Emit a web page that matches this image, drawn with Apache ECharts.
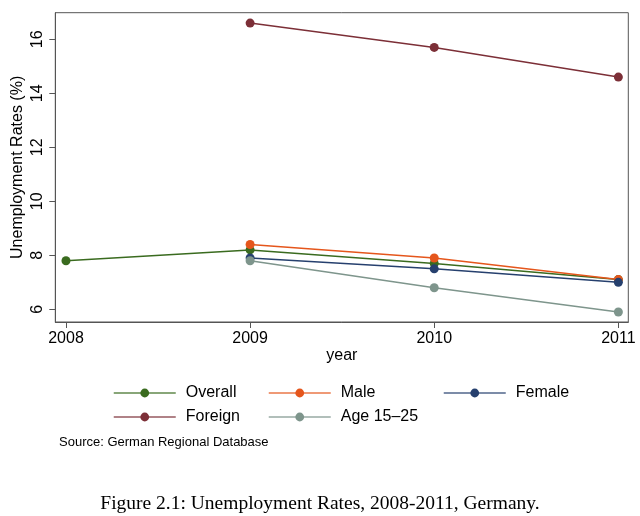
<!DOCTYPE html>
<html>
<head>
<meta charset="utf-8">
<script src="https://cdn.jsdelivr.net/npm/echarts@6/dist/echarts.min.js"></script>
<style>
html,body{margin:0;padding:0;background:#fff;}
#chart{width:640px;height:516px;}
</style>
</head>
<body>
<div id="chart"></div>
<script>
var years = [2008, 2009, 2010, 2011];
var yTicks = [6, 8, 10, 12, 14, 16];
var overall = [7.8, 8.2, 7.7, 7.1];
var male = [null, 8.4, 7.9, 7.1];
var female = [null, 7.9, 7.5, 7.0];
var foreign = [null, 16.6, 15.7, 14.6];
var age1525 = [null, 7.8, 6.8, 5.9];

var seriesNames = ['Overall', 'Male', 'Female', 'Foreign', 'Age 15\u201325'];
var seriesValues = [overall, male, female, foreign, age1525];
var seriesColors = ['#3a6b1f', '#e5561c', '#26406e', '#7c2f37', '#7e958c'];

function pairs(vals) {
  var out = [];
  for (var i = 0; i < years.length; i++) {
    if (vals[i] != null) out.push([years[i], vals[i]]);
  }
  return out;
}

var series = seriesNames.map(function (name, i) {
  return {
    name: name,
    type: 'line',
    data: pairs(seriesValues[i]),
    symbol: 'circle',
    symbolSize: 9,
    showSymbol: true,
    color: seriesColors[i],
    lineStyle: { width: 1.5, color: seriesColors[i] },
    itemStyle: { color: seriesColors[i] },
    z: 2 + i,
    animation: false
  };
});

var legendPos = [
  { left: 113, top: 385 },
  { left: 268, top: 385 },
  { left: 443, top: 385 },
  { left: 113, top: 409 },
  { left: 268, top: 409 }
];
var legends = seriesNames.map(function (name, i) {
  return {
    data: [name],
    left: legendPos[i].left,
    top: legendPos[i].top,
    padding: 0,
    itemWidth: 62,
    itemHeight: 11,
    selectedMode: false,
    lineStyle: { opacity: 0.8, width: 1.5 },
    textStyle: { fontFamily: 'Liberation Sans', fontSize: 16, color: '#000', padding: [0, 0, 0, 5] }
  };
});

var chart = echarts.init(document.getElementById('chart'), null, { renderer: 'canvas' });
chart.setOption({
  backgroundColor: '#fff',
  animation: false,
  title: [
    {
      text: 'Source: German Regional Database',
      left: 59, top: 436,
      padding: 0,
      textStyle: { fontFamily: 'Liberation Sans', fontSize: 13, fontWeight: 'normal', color: '#000' }
    },
    {
      text: 'Figure 2.1: Unemployment Rates, 2008-2011, Germany.',
      left: 'center', top: 494,
      padding: 0,
      textStyle: { fontFamily: 'Liberation Serif', fontSize: 19.5, fontWeight: 'normal', color: '#000' }
    }
  ],
  legend: legends,
  grid: {
    left: 55.3, right: 11.7, top: 12.7, bottom: 194,
    containLabel: false,
    outerBoundsMode: 'none',
    show: true, borderColor: '#555', borderWidth: 1, backgroundColor: '#fff'
  },
  xAxis: {
    type: 'value',
    min: 2007.942, max: 2011.054,
    name: 'year',
    nameLocation: 'middle',
    nameGap: 26,
    nameMoveOverlap: false,
    nameTextStyle: { fontFamily: 'Liberation Sans', fontSize: 16, color: '#000' },
    axisLine: { show: true, lineStyle: { color: '#555', width: 1 } },
    axisTick: { show: true, length: 6, customValues: years, lineStyle: { color: '#555' } },
    axisLabel: { customValues: years, margin: 9, fontFamily: 'Liberation Sans', fontSize: 16, color: '#000',
      formatter: function (v) { return String(v); } },
    splitLine: { show: false }
  },
  yAxis: {
    type: 'value',
    min: 5.53, max: 16.985,
    name: 'Unemployment Rates (%)',
    nameLocation: 'middle',
    nameRotate: 90,
    nameGap: 30,
    nameMoveOverlap: false,
    nameTextStyle: { fontFamily: 'Liberation Sans', fontSize: 16, color: '#000' },
    axisLine: { show: true, lineStyle: { color: '#555', width: 1 } },
    axisTick: { show: true, length: 6, customValues: yTicks, lineStyle: { color: '#555' } },
    axisLabel: { customValues: yTicks, rotate: 90, margin: 10, fontFamily: 'Liberation Sans', fontSize: 16, color: '#000' },
    splitLine: { show: false }
  },
  series: series
});
</script>
</body>
</html>
